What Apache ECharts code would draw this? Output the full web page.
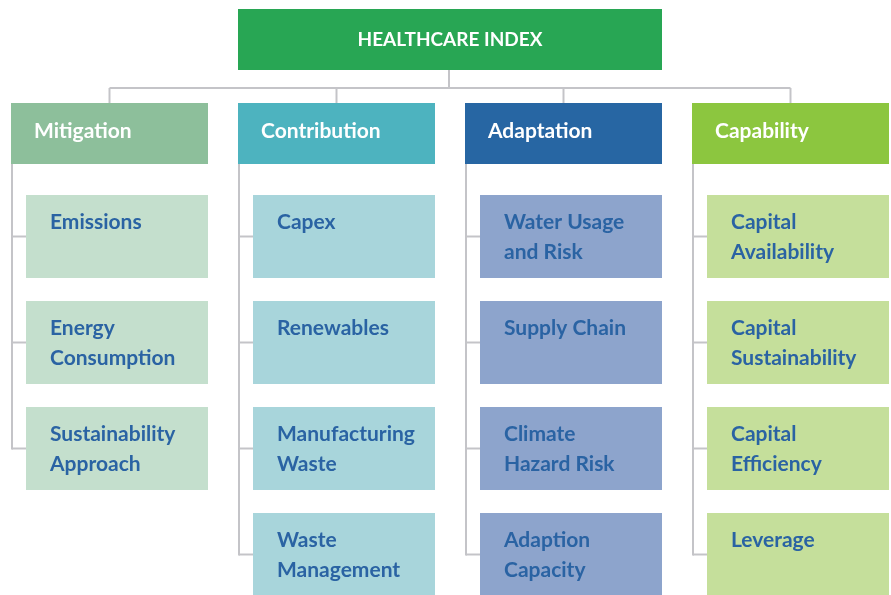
<!DOCTYPE html>
<html>
<head>
<meta charset="utf-8">
<script src="https://cdn.jsdelivr.net/npm/echarts@6/dist/echarts.min.js"></script>
<style>
  html, body { margin: 0; padding: 0; background: #fff; }
  #chart { width: 891px; height: 595px; }
</style>
</head>
<body>
<div id="chart"></div>
<script>
// hierarchy content
const rootLabel = "HEALTHCARE INDEX";
const pillars = ["Mitigation", "Contribution", "Adaptation", "Capability"];
const mitigationItems = ["Emissions", "Energy\nConsumption", "Sustainability\nApproach"];
const contributionItems = ["Capex", "Renewables", "Manufacturing\nWaste", "Waste\nManagement"];
const adaptationItems = ["Water Usage\nand Risk", "Supply Chain", "Climate\nHazard Risk", "Adaption\nCapacity"];
const capabilityItems = ["Capital\nAvailability", "Capital\nSustainability", "Capital\nEfficiency", "Leverage"];
const itemsByPillar = [mitigationItems, contributionItems, adaptationItems, capabilityItems];

// styles
const rootColor = "#28a654";
const pillarColors = ["#8dbf9b", "#4db3bf", "#2766a3", "#8cc63f"];
const itemColors = ["#c4dfcd", "#a8d5db", "#8da4cc", "#c5df9b"];
const itemText = "#2a63a3";
const lineColor = "#c4c4c8";
const FONT = "Lato, 'Noto Sans', sans-serif";

// nodes: col on x axis, row on y axis
const nodes = [{ kind: "root", col: (pillars.length - 1) / 2, row: 0, name: rootLabel }];
pillars.forEach((p, i) => {
  nodes.push({ kind: "pillar", col: i, row: 0, name: p, count: itemsByPillar[i].length, ci: i });
  itemsByPillar[i].forEach((t, j) => {
    nodes.push({ kind: "item", col: i, row: j + 1, name: t, ci: i });
  });
});

const COL_W = 197, INDENT = 15, ITEM_H = 83, HEAD_H = 61;
// pixel layout of the axes: column pitch / first column centre, row pitch / header row
const COL_STEP = 227, COL0 = 109.5, ROW_STEP = 106, ROW0 = 130.5;

function renderItem(params, api) {
  const n = nodes[params.dataIndex];
  const p = api.coord([n.col, n.row]);
  const cx = p[0], cy = p[1];
  const left = cx - COL_W / 2;
  const line = (x1, y1, x2, y2) => ({
    type: "line", shape: { x1, y1, x2, y2 },
    style: { stroke: lineColor, lineWidth: 2 }
  });

  if (n.kind === "item") {
    const top = cy - ITEM_H / 2;
    return { type: "group", children: [
      line(left + 1, cy, left + INDENT, cy),
      { type: "rect", shape: { x: left + INDENT, y: top, width: COL_W - INDENT, height: ITEM_H },
        style: { fill: itemColors[n.ci] } },
      { type: "text", style: { text: n.name, x: left + INDENT + 24, y: top + 12,
        font: "bold 21px " + FONT, lineHeight: 30, fill: itemText, align: "left", verticalAlign: "top" } }
    ]};
  }

  if (n.kind === "pillar") {
    const top = cy - 27.5;
    const lastY = api.coord([n.col, n.count])[1];
    return { type: "group", children: [
      line(cx, top - 15, cx, top),
      line(left + 1, top + HEAD_H, left + 1, lastY + 1),
      { type: "rect", shape: { x: left, y: top, width: COL_W, height: HEAD_H },
        style: { fill: pillarColors[n.ci] } },
      { type: "text", style: { text: n.name, x: left + 23, y: top + 28,
        font: "bold 21px " + FONT, fill: "#fff", align: "left", verticalAlign: "middle" } }
    ]};
  }

  // root
  const headTop = cy - 27.5;
  const busY = headTop - 15;
  const bottom = headTop - 33;
  const x0 = api.coord([0, 0])[0], x1 = api.coord([pillars.length - 1, 0])[0];
  return { type: "group", children: [
    line(x0, busY, x1, busY),
    line(cx - 1, bottom, cx - 1, busY),
    { type: "rect", shape: { x: cx - 212, y: bottom - HEAD_H, width: 424, height: HEAD_H },
      style: { fill: rootColor } },
    { type: "text", style: { text: n.name, x: cx, y: bottom - HEAD_H / 2,
      font: "bold 19px " + FONT, fill: "#fff", align: "center", verticalAlign: "middle" } }
  ]};
}

const chart = echarts.init(document.getElementById("chart"));
chart.setOption({
  animation: false,
  grid: { left: 0, right: 0, top: 0, bottom: 0 },
  xAxis: { type: "value", min: -COL0 / COL_STEP, max: (891 - COL0) / COL_STEP, show: false },
  yAxis: { type: "value", inverse: true, min: -ROW0 / ROW_STEP, max: (595 - ROW0) / ROW_STEP, show: false },
  series: [{
    type: "custom",
    clip: false,
    renderItem,
    encode: { x: 0, y: 1 },
    data: nodes.map((n) => [n.col, n.row])
  }]
});
</script>
</body>
</html>
